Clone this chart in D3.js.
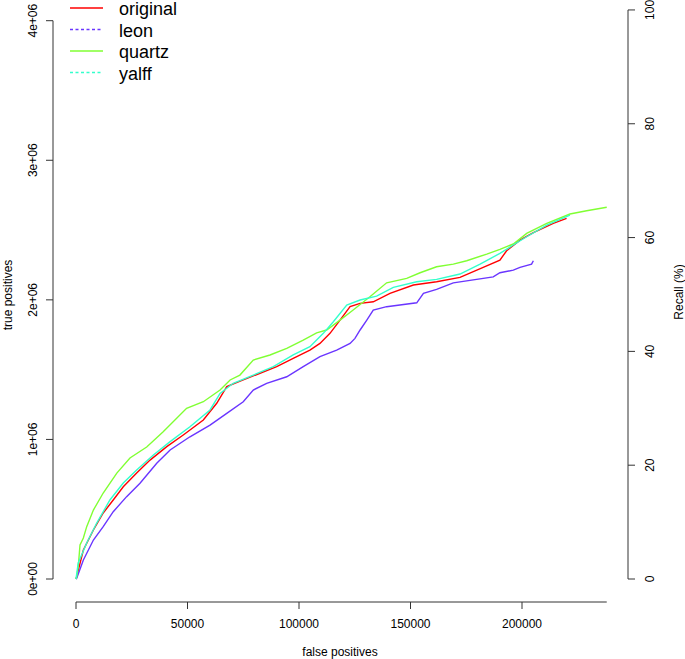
<!DOCTYPE html>
<html>
<head>
<meta charset="utf-8">
<script src="https://d3js.org/d3.v7.min.js"></script>
<style>
  body { margin: 0; background: #fff; }
  text { font-family: "Liberation Sans", Arial, sans-serif; fill: #000; }
</style>
</head>
<body>
<svg width="685" height="659"></svg>
<script>
// [false positives, true positives]
const original = [[0,0],[300,16000],[3300,208000],[7800,351000],[12200,473000],[16700,566000],[21200,661000],[27200,759000],[33200,852000],[40700,948000],[48100,1032000],[57100,1139000],[63100,1259000],[67600,1378000],[75000,1426000],[82500,1474000],[90000,1521000],[97400,1581000],[104900,1640000],[109400,1688000],[113900,1760000],[118400,1855000],[122900,1951000],[127400,1975000],[133300,1986000],[140800,2047000],[151300,2106000],[161700,2130000],[172200,2161000],[182600,2233000],[190100,2285000],[193100,2352000],[199100,2428000],[205100,2481000],[214000,2548000],[220000,2584000]];

const leon = [[0,0],[300,5000],[3300,136000],[7800,279000],[12200,375000],[16700,482000],[22700,590000],[28700,686000],[36200,829000],[42200,924000],[51100,1019000],[60100,1103000],[67600,1187000],[75000,1270000],[79500,1354000],[85500,1402000],[94500,1449000],[101900,1521000],[109400,1593000],[116900,1640000],[122900,1688000],[125100,1724000],[127400,1784000],[130400,1855000],[133300,1927000],[139300,1951000],[152800,1979000],[155800,2047000],[161700,2075000],[169200,2122000],[187100,2165000],[190100,2194000],[196100,2213000],[199100,2233000],[204300,2256000],[205100,2280000]];

const quartz = [[0,0],[300,16000],[1000,88000],[1800,244000],[3300,294000],[4800,375000],[7800,494000],[12200,616000],[18300,759000],[24200,867000],[31700,946000],[39100,1055000],[49600,1223000],[57100,1270000],[64600,1354000],[69100,1426000],[73500,1461000],[79500,1569000],[87000,1605000],[94500,1653000],[101900,1712000],[107900,1764000],[112400,1784000],[118400,1855000],[124300,1927000],[131800,2022000],[139300,2122000],[148300,2154000],[154300,2194000],[161700,2237000],[169200,2256000],[175200,2280000],[184200,2328000],[190100,2362000],[196100,2400000],[202100,2476000],[211100,2548000],[221500,2615000],[229000,2638000],[238000,2663000]];

const yalff = [[0,0],[1000,115000],[4800,258000],[9300,401000],[15200,566000],[21200,688000],[27200,781000],[34700,888000],[42200,984000],[51100,1091000],[60100,1211000],[64600,1330000],[70500,1402000],[79500,1461000],[88500,1521000],[97400,1605000],[104900,1664000],[110900,1760000],[115400,1843000],[121400,1963000],[127400,1999000],[134800,2027000],[142300,2090000],[152800,2130000],[161700,2147000],[172200,2185000],[181200,2256000],[190100,2333000],[196100,2393000],[202100,2452000],[211100,2536000],[221500,2607000]];

const seriesNames = ["original", "leon", "quartz", "yalff"];
const seriesColors = ["#ff0000", "#6a35ff", "#80ff33", "#33ffcc"];
const xTicks = [0, 50000, 100000, 150000, 200000];
const yTicks = [0, 1e6, 2e6, 3e6, 4e6];
const yTickLabels = ["0e+00", "1e+06", "2e+06", "3e+06", "4e+06"];
const recallTicks = [0, 20, 40, 60, 80, 100];
const totalPositives = 4077000;

const svg = d3.select("svg");
const data = [original, leon, quartz, yalff];

let x = d3.scaleLinear().domain([0, 200000]).range([76, 522]);
let y = d3.scaleLinear().domain([0, 4e6]).range([579, 20.7]);
let y2 = d3.scaleLinear().domain([0, 100]).range([y(0), y(totalPositives)]);

// bottom axis
let gx = svg.append("g").attr("transform", "translate(0,602)");
gx.append("line").attr("x1", x(0)).attr("x2", x(238000)).attr("stroke", "#333");
gx.selectAll(".t").data(xTicks).enter().append("line")
  .attr("x1", d => x(d)).attr("x2", d => x(d)).attr("y1", 0).attr("y2", 7).attr("stroke", "#333");
gx.selectAll(".l").data(xTicks).enter().append("text")
  .attr("x", d => x(d)).attr("y", 26).attr("text-anchor", "middle").style("font-size", "12px")
  .text(d => d);
svg.append("text").attr("x", 340).attr("y", 656).attr("text-anchor", "middle")
  .style("font-size", "12px").text("false positives");

// left axis
let gy = svg.append("g").attr("transform", "translate(53,0)");
gy.append("line").attr("y1", y(0)).attr("y2", y(4e6)).attr("stroke", "#333");
gy.selectAll(".t").data(yTicks).enter().append("line")
  .attr("y1", d => y(d)).attr("y2", d => y(d)).attr("x1", 0).attr("x2", -7).attr("stroke", "#333");
gy.selectAll(".l").data(yTicks).enter().append("text")
  .attr("transform", d => "translate(-16," + y(d) + ") rotate(-90)")
  .attr("text-anchor", "middle").style("font-size", "12px")
  .text((d, i) => yTickLabels[i]);
svg.append("text").attr("transform", "translate(12,295) rotate(-90)")
  .attr("text-anchor", "middle").style("font-size", "12px").text("true positives");

// right axis
let gr = svg.append("g").attr("transform", "translate(628,0)");
gr.append("line").attr("y1", y2(0)).attr("y2", y2(100)).attr("stroke", "#333");
gr.selectAll(".t").data(recallTicks).enter().append("line")
  .attr("y1", d => y2(d)).attr("y2", d => y2(d)).attr("x1", 0).attr("x2", 7).attr("stroke", "#333");
gr.selectAll(".l").data(recallTicks).enter().append("text")
  .attr("transform", d => "translate(26," + y2(d) + ") rotate(-90)")
  .attr("text-anchor", "middle").style("font-size", "12px")
  .text(d => d);
svg.append("text").attr("transform", "translate(683,292) rotate(-90)")
  .attr("text-anchor", "middle").style("font-size", "12px").text("Recall (%)");

// curves
let line = d3.line().x(d => x(d[0])).y(d => y(d[1]));
svg.selectAll(".curve").data(data).enter().append("path")
  .attr("d", d => line(d))
  .attr("fill", "none")
  .attr("stroke", (d, i) => seriesColors[i])
  .attr("stroke-width", 1.4);

// legend
let lg = svg.selectAll(".leg").data(seriesNames).enter().append("g")
  .attr("transform", (d, i) => "translate(0," + (8 + i * 21.5) + ")");
lg.append("line").attr("x1", 70).attr("x2", 103)
  .attr("stroke", (d, i) => seriesColors[i]).attr("stroke-width", 1.4)
  .attr("stroke-dasharray", (d, i) => (i % 2 == 1) ? "3,2.5" : null);
lg.append("text").attr("x", 119).attr("dy", "0.4em").style("font-size", "18px").text(d => d);
</script>
</body>
</html>
